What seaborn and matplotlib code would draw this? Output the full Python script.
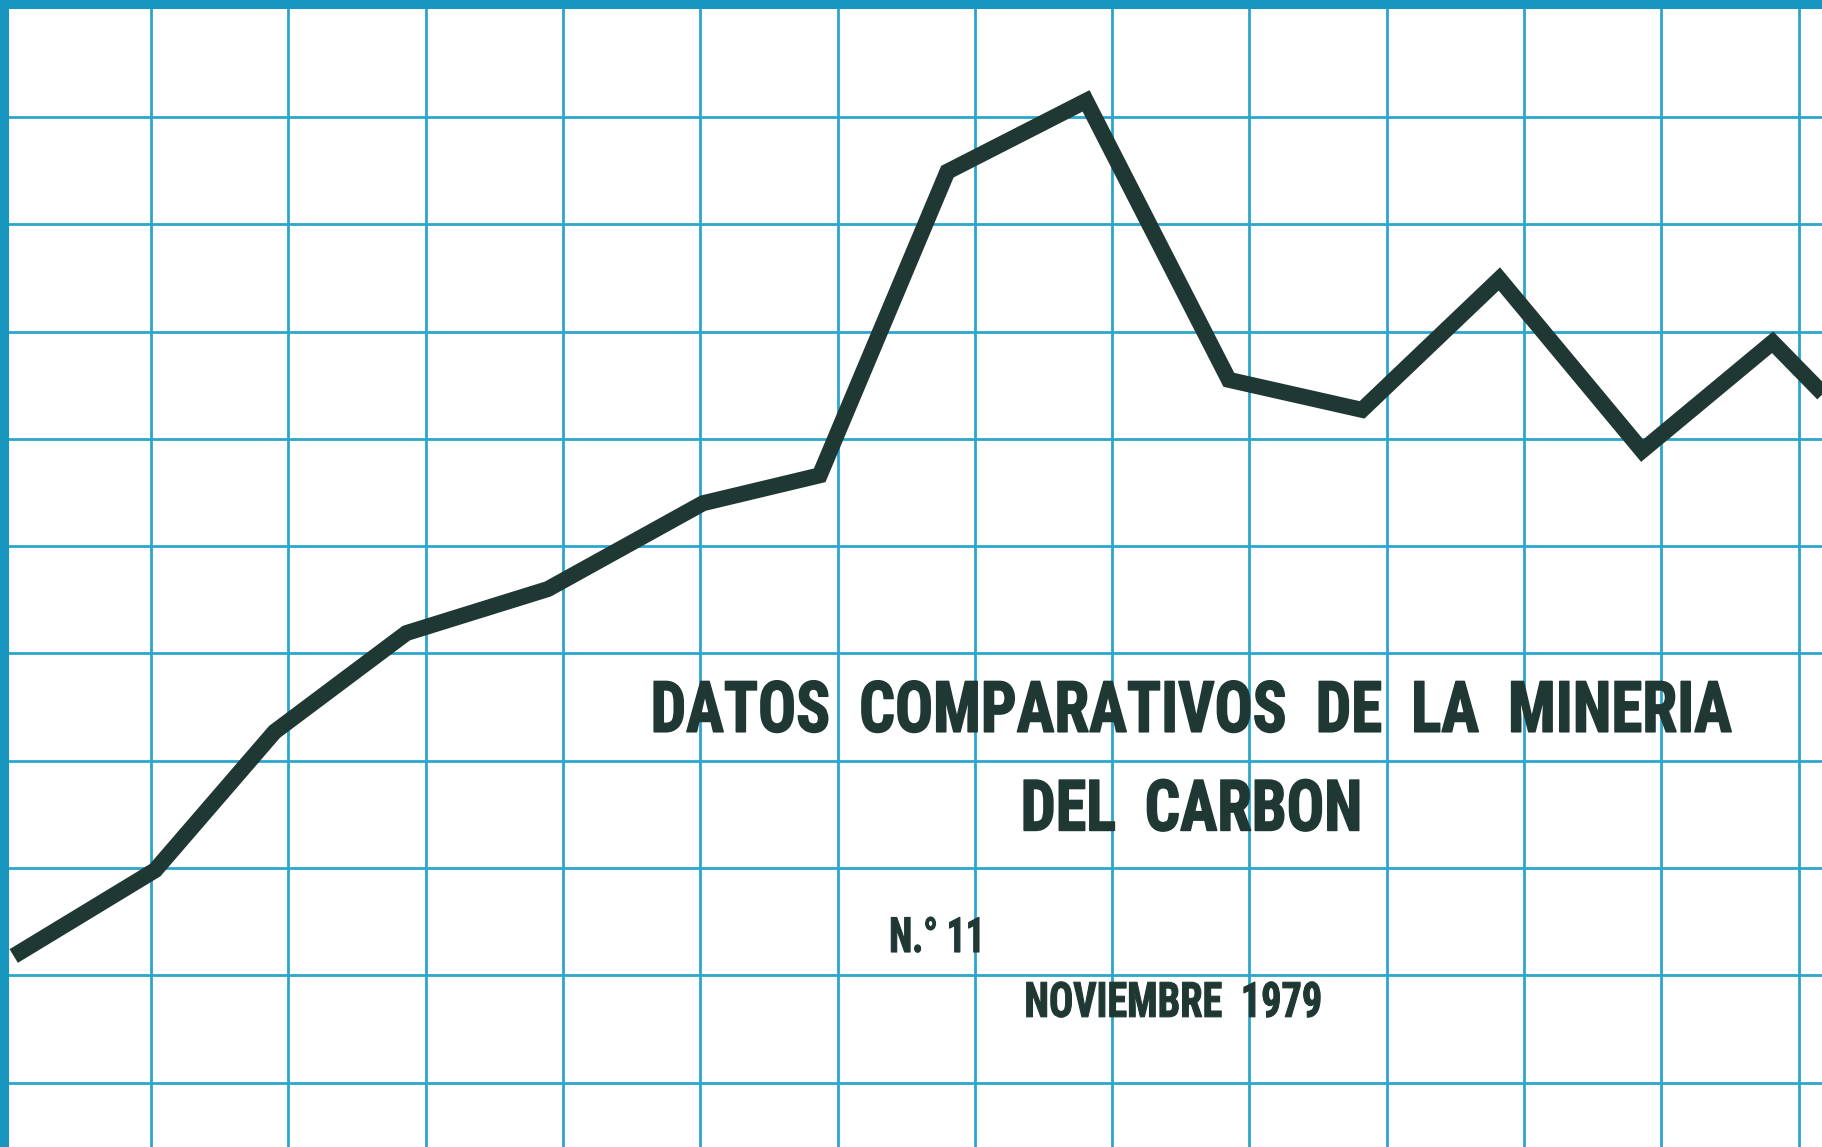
import numpy as np
import pandas as pd
import matplotlib
matplotlib.use("Agg")
import matplotlib.pyplot as plt
from matplotlib import font_manager
from matplotlib.patheffects import AbstractPathEffect
from matplotlib.transforms import Affine2D
import seaborn as sns

# ==========================================
# DATA (read off the cover, in grid units)
# ==========================================

period = [0.00, 1.03, 1.90, 2.86, 3.89, 5.02, 5.87, 6.80,
          7.81, 8.85, 9.82, 10.82, 11.86, 12.81, 13.20]
production = [2.18, 2.98, 4.27, 5.19, 5.60, 6.40, 6.66, 9.49,
              10.15, 7.55, 7.27, 8.49, 6.89, 7.90, 7.39]

x_grid = list(range(1, 14))
y_grid = list(range(1, 11))

title_1 = "DATOS  COMPARATIVOS  DE  LA  MINERIA"
title_2 = "DEL  CARBON"
number = "N.° 11"
date = "NOVIEMBRE  1979"

df = pd.DataFrame({"period": period, "production": production})

# ==========================================
# STYLE
# ==========================================

grid_blue = "#2ca6cc"
border_blue = "#1796bf"
ink = "#1f3833"

sns.set_style("whitegrid", {"grid.color": grid_blue, "axes.edgecolor": border_blue})

# pick a narrow face if one is around
names = {f.name for f in font_manager.fontManager.ttflist}
narrow = [n for n in ["Roboto Condensed", "Liberation Sans Narrow",
                      "Open Sans Condensed"] if n in names]
plt.rcParams["font.family"] = narrow + ["DejaVu Sans"]


class Squeeze(AbstractPathEffect):
    """Narrow the glyphs around a fixed x (display px) and fatten the strokes."""

    def __init__(self, sx, x0, lw):
        super().__init__()
        self.sx = sx
        self.x0 = x0
        self.lw = lw

    def draw_path(self, renderer, gc, tpath, affine, rgbFace=None):
        sq = Affine2D().translate(-self.x0, 0).scale(self.sx, 1).translate(self.x0, 0)
        gc0 = renderer.new_gc()
        gc0.copy_properties(gc)
        gc0.set_linewidth(self.lw)
        gc0.set_foreground(rgbFace if rgbFace is not None else gc.get_rgb())
        gc0.set_joinstyle("round")
        renderer.draw_path(gc0, tpath, affine + sq, rgbFace)
        gc0.restore()


fig = plt.figure(figsize=(18.22, 11.47), dpi=100)
ax = fig.add_axes([0, 0, 1, 1])

sns.lineplot(
    data=df,
    x="period",
    y="production",
    color=ink,
    linewidth=11.5,
    sort=False,
    ax=ax,
    solid_capstyle="butt",
    solid_joinstyle="miter",
    zorder=3,
)

ax.set_xlim(-0.10, 13.17)
ax.set_ylim(0.40, 11.09)
ax.set_xticks(x_grid)
ax.set_yticks(y_grid)
ax.grid(True, color=grid_blue, linewidth=2.0)
ax.tick_params(length=0, labelbottom=False, labelleft=False)
ax.set_xlabel("")
ax.set_ylabel("")

for side in ["right", "bottom"]:
    ax.spines[side].set_visible(False)
for side in ["left", "top"]:
    ax.spines[side].set_color(border_blue)
    ax.spines[side].set_linewidth(13)

# ==========================================
# COVER TEXT
# ==========================================

# (text, x, baseline y, align, size, target width in px, stroke pt)
labels = [
    (title_1, 0.654, 0.362, "center", 51, 1082, 1.1),
    (title_2, 0.654, 0.276, "center", 51, 342, 1.1),
    (number, 0.488, 0.170, "left", 35, 96, 0.8),
    (date, 0.644, 0.1135, "center", 35, 298, 0.8),
]

renderer = fig.canvas.get_renderer()
W = fig.get_figwidth() * fig.dpi
for txt, fx, fy, ha, size, target, lw in labels:
    t = fig.text(fx, fy, txt, ha=ha, va="baseline", fontsize=size,
                 fontweight="bold", color=ink, fontstretch="condensed")
    width = t.get_window_extent(renderer=renderer).width
    sx = min(1.0, target / width)
    t.set_path_effects([Squeeze(sx, fx * W, lw)])

plt.savefig("out.png", dpi=100)
